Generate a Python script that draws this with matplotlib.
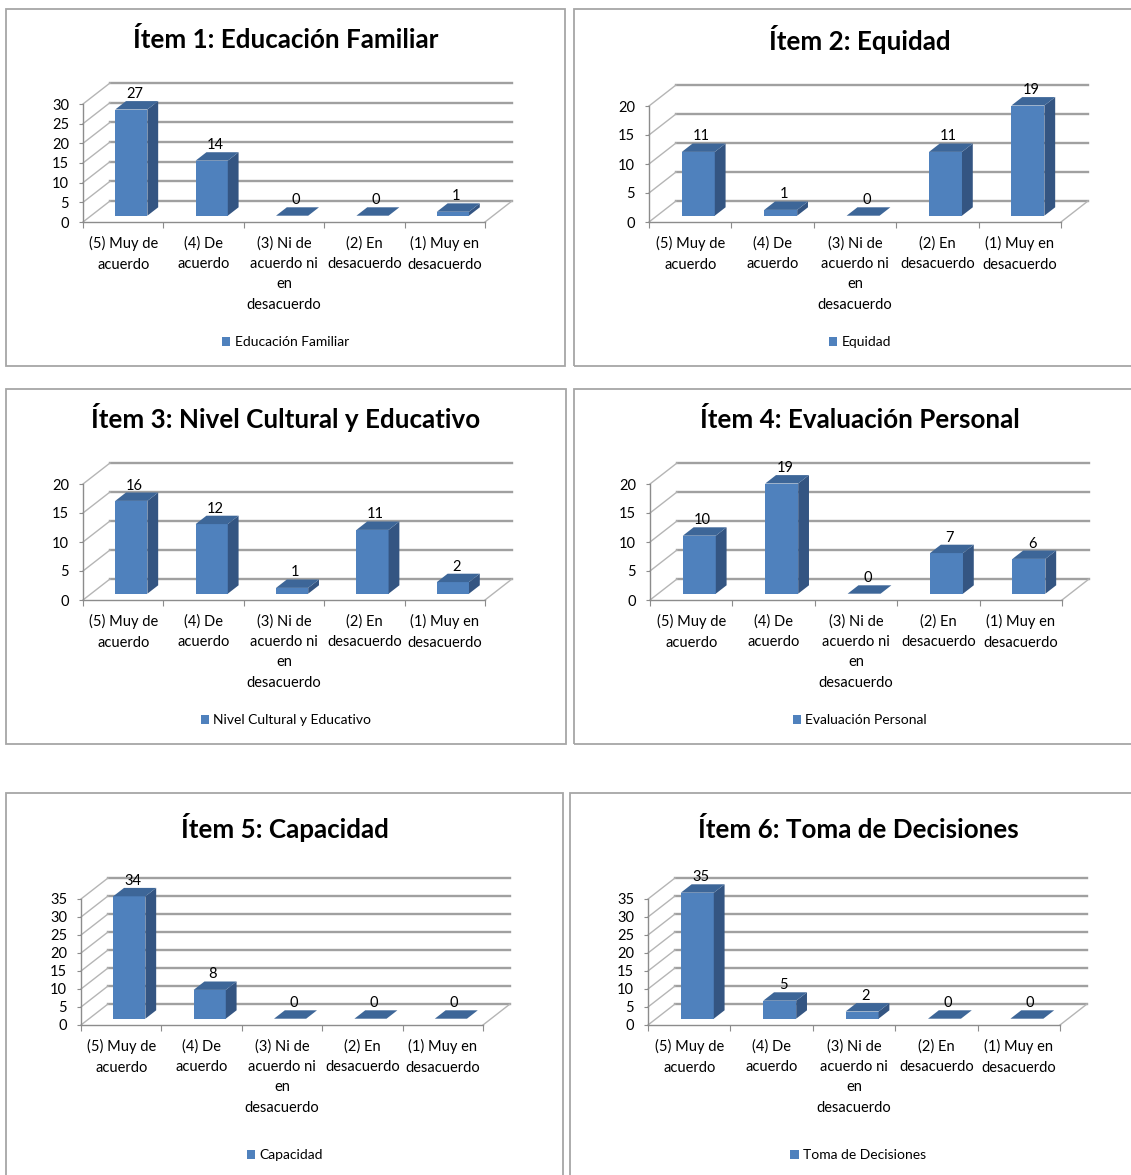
import numpy as np
import matplotlib
matplotlib.use("Agg")
import matplotlib.pyplot as plt
from matplotlib.patches import Rectangle, Polygon

plt.rcParams['font.family'] = ['Lato', 'DejaVu Sans']

# datos
categorias = ["(5) Muy de\nacuerdo", "(4) De\nacuerdo", "(3) Ni de\nacuerdo ni\nen\ndesacuerdo",
              "(2) En\ndesacuerdo", "(1) Muy en\ndesacuerdo"]
titulos = ["Ítem 1: Educación Familiar", "Ítem 2: Equidad", "Ítem 3: Nivel Cultural y Educativo",
           "Ítem 4: Evaluación Personal", "Ítem 5: Capacidad", "Ítem 6: Toma de Decisiones"]
series = ["Educación Familiar", "Equidad", "Nivel Cultural y Educativo",
          "Evaluación Personal", "Capacidad", "Toma de Decisiones"]
item1 = [27, 14, 0, 0, 1]
item2 = [11, 1, 0, 11, 19]
item3 = [16, 12, 1, 11, 2]
item4 = [10, 19, 0, 7, 6]
item5 = [34, 8, 0, 0, 0]
item6 = [35, 5, 2, 0, 0]
valores = [item1, item2, item3, item4, item5, item6]
ymax = [30, 20, 20, 20, 35, 35]

# layout en pixeles: marco, eje (x0, x1, y suelo, y tope), y titulo, y leyenda
W, H = 1131, 1175
paneles = [
    ((6, 9, 565, 366), (83, 485, 222, 104), 40, 342),
    ((574, 9, 1146, 366), (649, 1061, 222, 106), 40, 342),
    ((6, 389, 566, 744), (83, 485, 600, 484), 417, 720),
    ((574, 389, 1146, 744), (650, 1062, 600, 484), 419, 720),
    ((6, 793, 563, 1195), (81, 483, 1025, 899), 828, 1155),
    ((570, 793, 1146, 1195), (648, 1060, 1025, 899), 829, 1155),
]
PROF = (27, 21)   # profundidad del efecto 3D en px
F0, FD, ANCHO = 0.3, 0.4, 0.4

C_FRENTE, C_LADO, C_TOPE = '#4f81bd', '#345582', '#3d6698'
C_GRID = '#a0a0a0'

fig = plt.figure(figsize=(W / 100, H / 100), dpi=100)

for k in range(6):
    marco, eje, ty, ly = paneles[k]
    x0, y0, x1, y1 = marco
    fig.add_artist(Rectangle((x0 / W, 1 - y1 / H), (x1 - x0) / W, (y1 - y0) / H,
                             transform=fig.transFigure, fill=False, ec='#a6a6a6', lw=1.3))
    cx = (x0 + x1) / 2
    fig.text(cx / W, 1 - ty / H, titulos[k], ha='center', va='center',
             fontsize=18.7, fontweight='bold')

    ax0, ax1, ysu, yto = eje
    ax = fig.add_axes([ax0 / W, 1 - ysu / H, (ax1 - ax0) / W, (ysu - yto) / H])
    ax.set_facecolor('none')
    ym = ymax[k]
    n = len(categorias)
    ax.set_xlim(0, n)
    ax.set_ylim(0, ym)
    ddx = PROF[0] / ((ax1 - ax0) / n)
    ddy = PROF[1] / ((ysu - yto) / ym)

    # paredes
    for v in range(0, ym + 1, 5):
        ax.plot([ddx, n + ddx], [v + ddy, v + ddy], color=C_GRID, lw=1.7, clip_on=False, zorder=1)
        ax.plot([0, ddx], [v, v + ddy], color='#b5b5b5', lw=1.0, clip_on=False, zorder=1)
    ax.plot([n, n + ddx], [0, ddy], color='#b5b5b5', lw=1.0, clip_on=False, zorder=1)

    # barras
    vals = valores[k]
    xs = np.arange(n) + 0.5 + F0 * ddx
    b = F0 * ddy
    barras = ax.bar(xs, vals, width=ANCHO, bottom=b, color=C_FRENTE, clip_on=False,
                    zorder=3, label=series[k])
    for x, v in zip(xs, vals):
        izq, der = x - ANCHO / 2, x + ANCHO / 2
        top = b + v
        ax.add_patch(Polygon([(der, b), (der + FD * ddx, b + FD * ddy), (der + FD * ddx, top + FD * ddy),
                              (der, top)], closed=True, fc=C_LADO, ec='none', clip_on=False, zorder=3))
        ax.add_patch(Polygon([(izq, top), (der, top), (der + FD * ddx, top + FD * ddy),
                              (izq + FD * ddx, top + FD * ddy)], closed=True, fc=C_TOPE, ec='none',
                             clip_on=False, zorder=3))
        ax.annotate(str(v), (x + FD * ddx * 0.3, top + FD * ddy), xytext=(0, 0),
                    textcoords='offset points', ha='center', va='bottom', fontsize=10.5,
                    annotation_clip=False, zorder=4)

    # ejes
    for s in ['top', 'right']:
        ax.spines[s].set_visible(False)
    for s in ['left', 'bottom']:
        ax.spines[s].set_color('#8c8c8c')
        ax.spines[s].set_linewidth(1.0)
    ax.set_yticks(range(0, ym + 1, 5))
    ax.tick_params(axis='y', length=3, color='#8c8c8c', labelsize=10.5, pad=7)
    ax.set_xticks(range(n + 1))
    ax.set_xticklabels([])
    ax.tick_params(axis='x', which='major', length=4, color='#8c8c8c')
    ax.set_xticks(np.arange(n) + 0.5, minor=True)
    ax.set_xticklabels(categorias, minor=True, fontsize=10.5, linespacing=1.6)
    ax.tick_params(axis='x', which='minor', length=0, pad=10)

    fig.legend(handles=[barras], loc='center', bbox_to_anchor=(cx / W, 1 - ly / H), frameon=False,
               fontsize=10, handlelength=0.6, handleheight=0.6, handletextpad=0.3,
               borderpad=0, borderaxespad=0)

fig.savefig('out.png', dpi=100)
